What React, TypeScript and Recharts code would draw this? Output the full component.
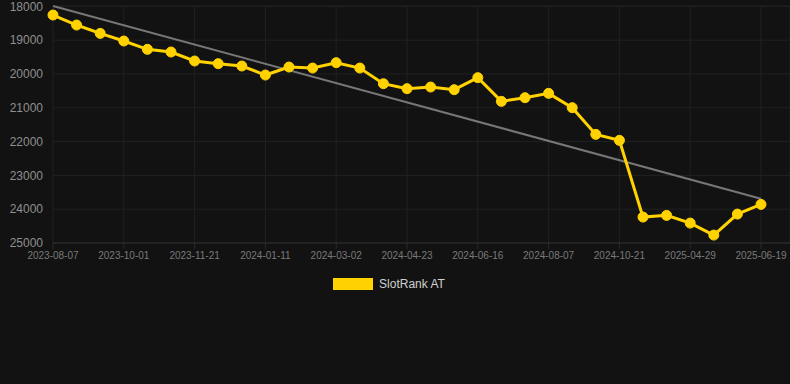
import { LineChart, Line, XAxis, YAxis, CartesianGrid, Legend } from 'recharts';

// dates on the category axis (every third one is labelled)
const dates = [
  '2023-08-07', '2023-08-25', '2023-09-13', '2023-10-01', '2023-10-18', '2023-11-04',
  '2023-11-21', '2023-12-08', '2023-12-25', '2024-01-11', '2024-01-28', '2024-02-14',
  '2024-03-02', '2024-03-19', '2024-04-05', '2024-04-23', '2024-05-11', '2024-05-29',
  '2024-06-16', '2024-07-03', '2024-07-20', '2024-08-07', '2024-09-01', '2024-09-26',
  '2024-10-21', '2024-12-20', '2025-02-28', '2025-04-29', '2025-05-16', '2025-06-02',
  '2025-06-19',
];

const rankValues = [
  18257, 18553, 18800, 19026, 19272, 19351, 19617, 19696, 19765, 20032, 19795, 19825,
  19666, 19825, 20288, 20435, 20387, 20466, 20110, 20811, 20702, 20574, 20997, 21787,
  21964, 24233, 24183, 24411, 24766, 24145, 23858,
];

// trend line endpoints (first and last date)
const trendStart = 17990;
const trendEnd = 23690;

const yTicks = [18000, 19000, 20000, 21000, 22000, 23000, 24000, 25000];

const chartData = dates.map((date, i) => ({
  date,
  rank: rankValues[i],
  trend: i === 0 ? trendStart : i === dates.length - 1 ? trendEnd : null,
}));

const YELLOW = '#ffd200';

function LegendBox() {
  return (
    <div
      style={{
        height: 24,
        display: 'flex',
        alignItems: 'center',
        justifyContent: 'center',
        paddingRight: 12,
        fontFamily: 'Arial, "Liberation Sans", sans-serif',
        fontSize: 12,
        color: '#d0d0d0',
      }}
    >
      <span style={{ display: 'inline-block', width: 40, height: 12, background: YELLOW, marginRight: 6 }} />
      <span>SlotRank AT</span>
    </div>
  );
}

export default function App() {
  return (
    <div style={{ position: 'absolute', left: 0, top: 0, width: 790, height: 384, background: '#121212' }}>
      <LineChart
        width={790}
        height={384}
        data={chartData}
        margin={{ top: 6, right: 0, left: 0, bottom: 88 }}
        style={{ fontFamily: 'Arial, "Liberation Sans", sans-serif' }}
      >
        <CartesianGrid stroke="#212121" strokeWidth={1} />
        <XAxis
          dataKey="date"
          interval={2}
          height={29}
          padding={{ left: 0, right: 29 }}
          tick={{ fill: '#7a7a7a', fontSize: 10 }}
          tickLine={{ stroke: '#2a2a2a' }}
          tickSize={6}
          tickMargin={3}
          axisLine={{ stroke: '#2e2e2e' }}
        />
        <YAxis
          reversed
          domain={[18000, 25000]}
          ticks={yTicks}
          interval={0}
          width={53}
          tick={{ fill: '#8f8f8f', fontSize: 12 }}
          tickLine={false}
          tickMargin={4}
          axisLine={false}
        />
        <Legend verticalAlign="bottom" content={() => <LegendBox />} />
        <Line
          dataKey="trend"
          stroke="#777777"
          strokeWidth={2}
          dot={false}
          connectNulls
          legendType="none"
          isAnimationActive={false}
        />
        <Line
          dataKey="rank"
          name="SlotRank AT"
          stroke={YELLOW}
          strokeWidth={3}
          dot={{ r: 5, fill: YELLOW, stroke: YELLOW, strokeWidth: 1 }}
          activeDot={false}
          isAnimationActive={false}
        />
      </LineChart>
    </div>
  );
}
